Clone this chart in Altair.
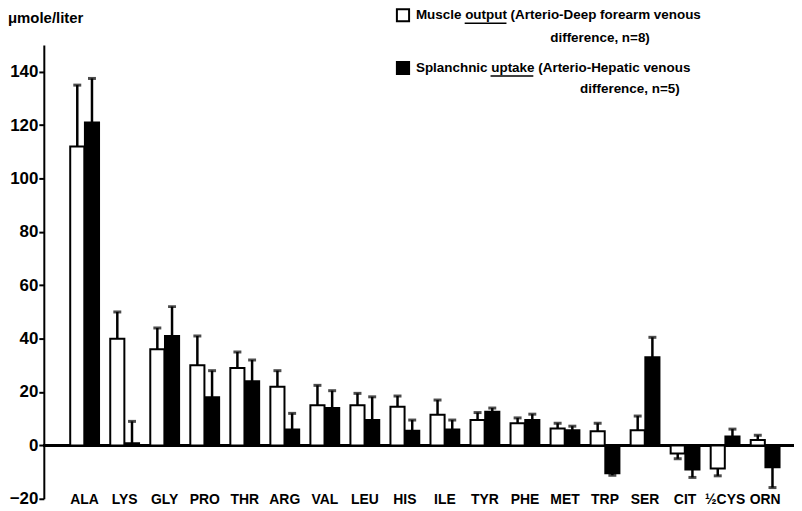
import altair as alt
import pandas as pd

# ---- data ----
amino_acids = ["ALA", "LYS", "GLY", "PRO", "THR", "ARG", "VAL", "LEU", "HIS",
               "ILE", "TYR", "PHE", "MET", "TRP", "SER", "CIT", "½CYS", "ORN"]
muscle_output = [112, 40, 36, 30, 29, 22, 15, 15, 14.5, 11.5, 9.5, 8.3, 6.3, 5.3, 5.7, -3, -8.7, 2]
muscle_sem = [23, 10, 8, 11, 6, 6, 7.5, 4.5, 4, 5.5, 2.8, 2, 2, 3, 5.3, 2, 2.7, 1.8]
splanchnic_uptake = [121, 0.8, 41, 18, 24, 6, 14, 9.5, 5.5, 6, 12.6, 9.5, 5.7, -10.4, 33, -9, 3.3, -8.2]
splanchnic_sem = [16.5, 8.2, 11, 10, 8, 6, 6.5, 8.7, 4, 3.5, 1.4, 2.2, 1.5, 0.8, 7.5, 3, 2.8, 7.6]
series_names = ["Muscle", "Splanchnic"]
y_ticks = [-20, 0, 20, 40, 60, 80, 100, 120, 140]
y_title = ["μmole/liter"]
legend_line1 = ["Muscle output (Arterio-Deep forearm venous"]
legend_line2 = ["difference, n=8)"]
legend_line3 = ["Splanchnic uptake (Arterio-Hepatic venous"]
legend_line4 = ["difference, n=5)"]

rows = []
for i, c in enumerate(amino_acids):
    for s, vals, errs in ((series_names[0], muscle_output, muscle_sem),
                          (series_names[1], splanchnic_uptake, splanchnic_sem)):
        v = vals[i]
        e = errs[i]
        end = v + e if v >= 0 else v - e
        rows.append({"aa": c, "series": s, "value": v, "err_end": end})
df = pd.DataFrame(rows)

FONT = "Liberation Sans"
W, H = 750, 456

xscale = alt.Scale(domain=amino_acids, range=[20.9, 745.1], paddingInner=0.28, paddingOuter=0.14)
xoff = alt.XOffset("series:N", scale=alt.Scale(domain=series_names, paddingInner=0.04))
yscale = alt.Scale(domain=[-20, 150], nice=False, zero=False)

x_enc = alt.X("aa:N", scale=xscale, sort=amino_acids,
              axis=alt.Axis(title=None, domain=False, ticks=False, labelAngle=0,
                            labelBaseline="middle", labelPadding=1,
                            labelFont=FONT, labelFontSize=14, labelFontWeight="bold",
                            labelColor="black"))
y_axis = alt.Axis(title=None, values=y_ticks, grid=False, domainColor="black",
                  domainWidth=2, tickColor="black", tickWidth=2, tickSize=5,
                  labelPadding=1, labelFont=FONT, labelFontSize=17,
                  labelFontWeight="bold", labelColor="black")

base = alt.Chart(df)

bars = base.mark_bar(stroke="black", strokeWidth=2).encode(
    x=x_enc,
    xOffset=xoff,
    y=alt.Y("value:Q", scale=yscale, axis=y_axis),
    y2=alt.datum(0),
    fill=alt.Fill("series:N", scale=alt.Scale(domain=series_names, range=["white", "black"]), legend=None),
)

whisk = base.mark_rule(color="black", strokeWidth=2.5).encode(
    x=alt.X("aa:N", scale=xscale, sort=amino_acids),
    xOffset=xoff,
    y=alt.Y("value:Q", scale=yscale),
    y2="err_end:Q",
)

caps = base.mark_tick(color="black", thickness=3, size=8).encode(
    x=alt.X("aa:N", scale=xscale, sort=amino_acids),
    xOffset=xoff,
    y=alt.Y("err_end:Q", scale=yscale),
)

zero = base.mark_rule(color="black", strokeWidth=2).encode(
    y=alt.datum(0), x=alt.value(0), x2=alt.value(756)
)

def text_layer(lines, x, y, size=13.5, align="left"):
    return alt.Chart(pd.DataFrame({"t": lines})).mark_text(
        font=FONT, fontSize=size, fontWeight="bold", color="black",
        align=align, baseline="middle"
    ).encode(text="t:N", x=alt.value(x), y=alt.value(y))

title_txt = text_layer(y_title, -36, -27, size=15)
l1 = text_layer(legend_line1, 374, -30)
l2 = text_layer(legend_line2, 509, -7)
l3 = text_layer(legend_line3, 374, 23)
l4 = text_layer(legend_line4, 539, 44)

sq1 = alt.Chart(pd.DataFrame({"s": [series_names[0]]})).mark_square(
    size=150, fill="white", stroke="black", strokeWidth=2, opacity=1
).encode(x=alt.value(361), y=alt.value(-30))
sq2 = alt.Chart(pd.DataFrame({"s": [series_names[1]]})).mark_square(
    size=150, fill="black", stroke="black", strokeWidth=2, opacity=1
).encode(x=alt.value(361), y=alt.value(23))

ul1 = alt.Chart(pd.DataFrame({"s": [series_names[0]]})).mark_rule(color="black", strokeWidth=1.5).encode(
    x=alt.value(423), x2=alt.value(465), y=alt.value(-22))
ul2 = alt.Chart(pd.DataFrame({"s": [series_names[1]]})).mark_rule(color="black", strokeWidth=1.5).encode(
    x=alt.value(449), x2=alt.value(492), y=alt.value(31))

chart = alt.layer(zero, bars, whisk, caps, title_txt, l1, l2, l3, l4, sq1, sq2, ul1, ul2).properties(
    width=W, height=H,
    autosize=alt.AutoSizeParams(type="none"),
    padding={"left": 36, "top": 36, "right": 4, "bottom": 8},
    background="white",
).configure_view(stroke=None)

chart.save("out.html", embed_options={"renderer": "svg", "actions": False})
